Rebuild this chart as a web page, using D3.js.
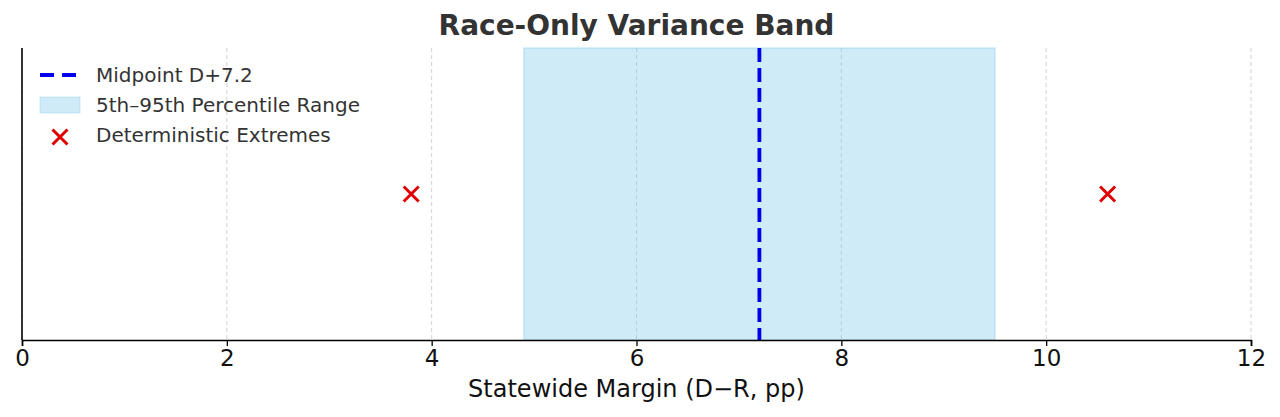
<!DOCTYPE html>
<html><head><meta charset="utf-8">
<script src="https://cdn.jsdelivr.net/npm/d3@7"></script>
<style>body{margin:0;background:#fff}text{font-family:"DejaVu Sans",sans-serif}</style>
</head><body><svg id="c" width="1280" height="417"></svg>
<script>
const xTicks = [0, 2, 4, 6, 8, 10, 12];
const bandRange = [4.9, 9.5];
const midpoint = [7.2];
const extremes = [3.8, 10.6];
const legendLabels = ["Midpoint D+7.2", "5th\u201395th Percentile Range", "Deterministic Extremes"];
const title = "Race-Only Variance Band";
const xLabel = "Statewide Margin (D\u2212R, pp)";

const svg = d3.select("#c");
const L = 22, R = 1251, T = 48, B = 340;
const x = d3.scaleLinear().domain([0, 12]).range([L, R]);
const y = d3.scaleLinear().domain([-1, 1]).range([B, T]);

// grid
svg.append("g").selectAll("line").data(xTicks).join("line")
  .attr("x1", d => x(d)).attr("x2", d => x(d)).attr("y1", T).attr("y2", B)
  .attr("stroke", "#cccccc").attr("stroke-width", 0.9).attr("stroke-dasharray", "4,3");

// band
svg.append("rect").attr("x", x(bandRange[0])).attr("width", x(bandRange[1]) - x(bandRange[0]))
  .attr("y", T).attr("height", B - T)
  .attr("fill", "#87CEEB").attr("fill-opacity", 0.4)
  .attr("stroke", "#87CEEB").attr("stroke-opacity", 0.4).attr("stroke-width", 1.5);

// midpoint
svg.selectAll(".mid").data(midpoint).join("line")
  .attr("x1", d => x(d)).attr("x2", d => x(d)).attr("y1", T).attr("y2", B)
  .attr("stroke", "#0000ee").attr("stroke-width", 3.8).attr("stroke-dasharray", "14,6");

// extremes
const cross = (g, cx, cy, s) => {
  g.append("path").attr("d", `M${cx-s},${cy-s}L${cx+s},${cy+s}M${cx-s},${cy+s}L${cx+s},${cy-s}`)
   .attr("stroke", "#e00000").attr("stroke-width", 3).attr("fill", "none");
};
extremes.forEach(v => cross(svg, x(v), y(0), 7.5));

// axes
const ax = svg.append("g").attr("transform", `translate(0,${B})`)
  .call(d3.axisBottom(x).tickValues(xTicks).tickSize(6).tickPadding(4).tickFormat(d3.format("d")));
ax.select(".domain").attr("stroke", "#000").attr("stroke-width", 1.6);
ax.selectAll(".tick line").attr("stroke", "#000").attr("stroke-width", 1.3);
ax.selectAll("text").attr("font-size", 23).attr("fill", "#111").attr("font-family", "DejaVu Sans");
svg.append("line").attr("x1", L).attr("x2", L).attr("y1", T).attr("y2", B)
  .attr("stroke", "#000").attr("stroke-width", 1.6);

svg.append("text").attr("x", (L + R) / 2).attr("y", 397).attr("text-anchor", "middle")
  .attr("font-size", 24).attr("fill", "#111").text(xLabel);
svg.append("text").attr("x", (L + R) / 2).attr("y", 35).attr("text-anchor", "middle")
  .attr("font-size", 28).attr("font-weight", "bold").attr("fill", "#333").text(title);

// legend
const lg = svg.append("g");
lg.append("line").attr("x1", 40).attr("x2", 77).attr("y1", 75).attr("y2", 75)
  .attr("stroke", "#0000ee").attr("stroke-width", 3.8).attr("stroke-dasharray", "14,8");
lg.append("rect").attr("x", 40).attr("y", 97).attr("width", 40).attr("height", 16)
  .attr("fill", "#87CEEB").attr("fill-opacity", 0.4).attr("stroke", "#87CEEB").attr("stroke-opacity", 0.4);
cross(lg, 60, 137, 7.5);
lg.selectAll("text").data(legendLabels).join("text")
  .attr("x", 96).attr("y", (d, i) => 82 + i * 30)
  .attr("font-size", 20).attr("fill", "#333").text(d => d);
</script></body></html>
